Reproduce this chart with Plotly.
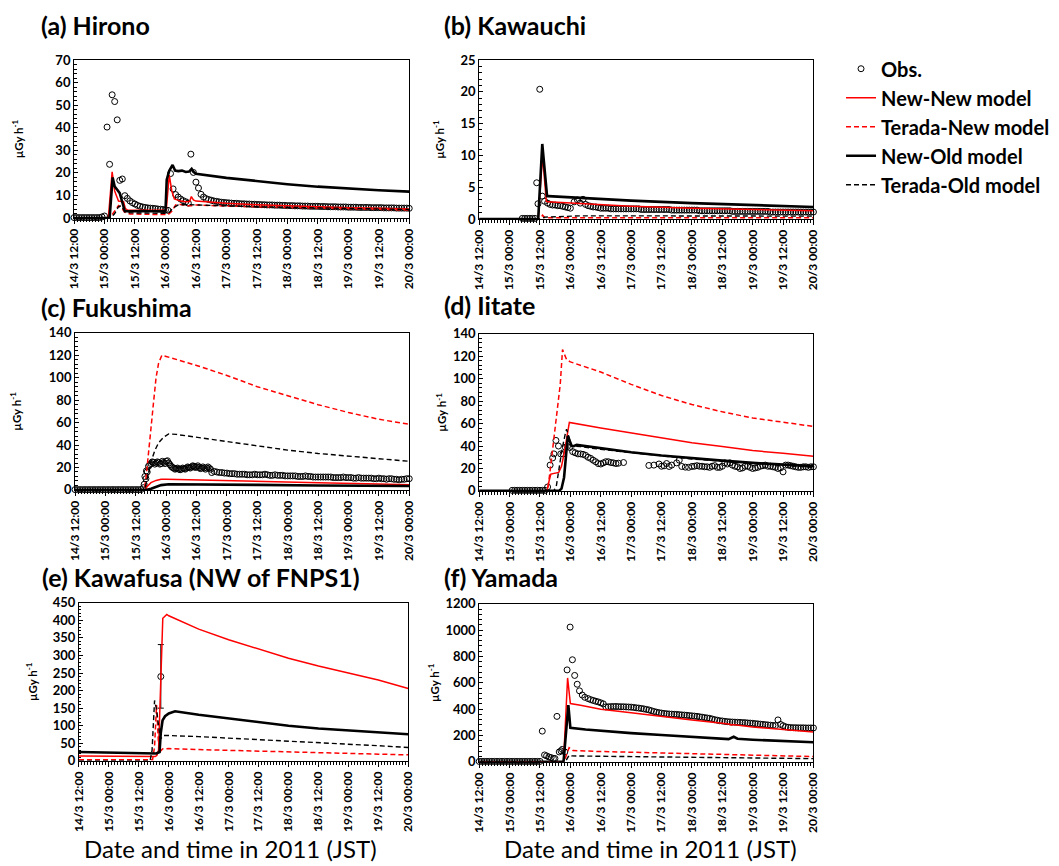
import plotly.graph_objects as go

# ---------------- axis / panel text ----------------
TICK_HOURS = [0, 12, 24, 36, 48, 60, 72, 84, 96, 108, 120, 132]  # hours since 14/3 12:00 JST
TICK_TEXT = ["14/3 12:00", "15/3 00:00", "15/3 12:00", "16/3 00:00", "16/3 12:00",
             "17/3 00:00", "17/3 12:00", "18/3 00:00", "18/3 12:00", "19/3 00:00",
             "19/3 12:00", "20/3 00:00"]
PANEL_TITLES = ["(a) Hirono", "(b) Kawauchi", "(c) Fukushima", "(d) Iitate",
                "(e) Kawafusa (NW of FNPS1)", "(f) Yamada"]
Y_MAX = [70, 25, 140, 140, 450, 1200]
Y_DTICK = [10, 5, 20, 20, 50, 200]
SERIES = ["Obs.", "New-New model", "Terada-New model", "New-Old model", "Terada-Old model"]
X_TITLE = "Date and time in 2011 (JST)"
Y_TITLE = "µGy h<sup>-1</sup>"

# ---------------- (a) Hirono ----------------
a_obs_start = 0
a_obs_v = [0.2, 0.2, 0.2, 0.2, 0.2, 0.2, 0.2, 0.2, 0.2, 0.2, 0.2,
           0.5, 0.9,
           40.3, 23.8, 54.6, 51.6, 43.5, 16.7, 17.3, 9.9,
           8.7, 7.6, 6.8, 6.2, 5.6, 5.2, 4.9, 4.7, 4.5, 4.4, 4.3, 4.2, 4.0, 3.9, 3.8,
           3.6, 3.4,
           19.7, 12.9, 10.4, 9.3, 8.4, 7.7, 7.2, 6.6,
           28.3, 20.2, 15.9, 13.3, 10.5, 9.3, 8.6,
           8.2, 7.9, 7.6, 7.4, 7.2, 7.0, 6.9, 6.8, 6.7, 6.6,
           6.5, 6.5, 6.4, 6.3, 6.3, 6.2, 6.2, 6.1, 6.1, 6.0,
           6.0, 5.9, 5.9, 5.8, 5.8, 5.8, 5.7, 5.7, 5.7, 5.6,
           5.6, 5.5, 5.5, 5.5, 5.4, 5.4, 5.4, 5.3, 5.3, 5.3,
           5.2, 5.2, 5.2, 5.2, 5.1, 5.1, 5.1, 5.0, 5.0, 5.0,
           5.0, 4.9, 4.9, 4.9, 4.9, 4.8, 4.8, 4.8, 4.8, 4.7,
           4.7, 4.7, 4.7, 4.7, 4.6, 4.6, 4.6, 4.6, 4.6, 4.5,
           4.5, 4.5, 4.5, 4.5, 4.4, 4.4, 4.4, 4.4, 4.4, 4.3]
a_nn_t = [0, 13.5, 15, 16, 17, 17.5, 19.5, 20.2, 21, 36, 36.3, 37.5, 38.5, 39.5, 42, 44, 45.5, 46.2, 47, 48, 55, 60, 72, 84, 96, 108, 120, 132]
a_nn_v = [0, 0, 20.5, 12, 9, 7.5, 7.2, 4.2, 3.6, 3.4, 3.5, 19, 12, 8.5, 7.5, 7.2, 7.3, 9.5, 8, 7.5, 6.8, 6.5, 5.9, 5.4, 5.0, 4.6, 4.3, 4.0]
a_tn_t = [0, 14, 15, 16.5, 17.5, 19, 20, 22, 36, 37, 38.5, 40, 42, 44, 46, 48, 60, 72, 96, 120, 132]
a_tn_v = [0, 0, 1.5, 4, 5.5, 4, 2.5, 1.8, 1.5, 1.5, 3, 5.8, 6, 5.5, 5.5, 5.8, 5.3, 5, 4.3, 3.8, 3.6]
a_no_t = [0, 14, 15.2, 16, 17, 18, 19, 20, 36, 36.5, 37.5, 38.8, 39.8, 41, 42.5, 44, 45.3, 46.3, 47, 48, 60, 72, 84, 96, 108, 120, 132]
a_no_v = [0, 0, 18, 14, 12.5, 11, 7, 3, 3, 17, 21, 23.5, 21, 20.8, 21, 20.4, 20.6, 21.8, 20.5, 19.6, 17.8, 16.3, 15.0, 13.9, 13.0, 12.3, 11.7]
a_to_t = [0, 14.5, 16, 17.5, 18.5, 20, 22, 36, 37.5, 39, 41, 44, 48, 60, 72, 96, 120, 132]
a_to_v = [0, 0, 2, 5, 5.5, 3, 2.3, 2.1, 2.5, 4.5, 5.8, 6, 5.8, 5.3, 5, 4.5, 4, 3.8]

# ---------------- (b) Kawauchi ----------------
b_obs_t_early = [17, 18, 19, 20, 21, 22, 22.7, 23.2, 23.9, 24.9, 25.8,
                 27, 28, 29, 30, 31, 32, 33, 34, 35, 36, 37.5, 38.8, 39.9, 41]
b_obs_v_early = [0.1, 0.1, 0.1, 0.1, 0.1, 0.1, 5.7, 2.4, 20.4, 3.6, 2.8,
                 2.5, 2.3, 2.2, 2.2, 2.1, 2.1, 2.0, 1.9, 1.8, 1.7, 2.7, 3.0, 2.5, 3.1]
b_obs_tail_start = 42
b_obs_v_tail = [2.3, 2.1, 2.0, 1.9, 1.9, 1.8, 1.7,
                1.7, 1.7, 1.7, 1.6, 1.6, 1.6, 1.6, 1.6, 1.6, 1.6,
                1.6, 1.6, 1.6, 1.6, 1.6, 1.5, 1.5, 1.5, 1.5, 1.5,
                1.5, 1.5, 1.5, 1.5, 1.5, 1.5, 1.5, 1.4, 1.4, 1.4,
                1.4, 1.4, 1.4, 1.4, 1.4, 1.4, 1.4, 1.4, 1.3, 1.3,
                1.3, 1.3, 1.3, 1.3, 1.3, 1.3, 1.3, 1.3, 1.3, 1.3,
                1.3, 1.2, 1.2, 1.2, 1.2, 1.2, 1.2, 1.2, 1.2, 1.2,
                1.2, 1.2, 1.2, 1.2, 1.2, 1.2, 1.1, 1.1, 1.1, 1.1,
                1.1, 1.1, 1.1, 1.1, 1.1, 1.1, 1.1, 1.1, 1.1, 1.1,
                1.1, 1.1, 1.1, 1.1]
b_nn_t = [0, 23.3, 25, 26.5, 27, 40, 60, 84, 108, 132]
b_nn_v = [0, 0, 10, 2.8, 2.7, 2.4, 2.0, 1.7, 1.5, 1.3]
b_tn_t = [0, 24, 25, 26, 30, 60, 132]
b_tn_v = [0, 0, 0.6, 0.2, 0.2, 0.2, 0.2]
b_no_t = [0, 23.3, 24.9, 26.8, 27.3, 40, 60, 84, 108, 132]
b_no_v = [0, 0, 11.8, 3.6, 3.6, 3.3, 2.9, 2.5, 2.2, 1.9]
b_to_t = [0, 24, 26, 30, 40, 60, 90, 132]
b_to_v = [0, 0, 0.3, 0.35, 0.5, 0.5, 0.5, 0.45]

# ---------------- (c) Fukushima ----------------
c_obs_start = 0
c_obs_v = [0.3, 0.3, 0.3, 0.3, 0.3, 0.3, 0.3, 0.3, 0.3, 0.3,
           0.3, 0.3, 0.3, 0.3, 0.3, 0.3, 0.3, 0.3, 0.3, 0.3,
           0.3, 0.3, 0.3, 0.3, 0.3, 0.3, 0.3,
           2, 10, 21,
           23.5, 24.5, 24, 24.5, 23.5, 24.5, 25.5, 24, 21, 19.5,
           19, 18.5, 18.5, 19, 19.5, 20, 20.5, 21, 20.5, 20,
           19.5, 19.5, 19.5, 19.5,
           15.5, 16.5, 16, 15.5, 15.5, 15, 15, 14.5, 14.5, 14.5,
           14, 14, 14, 14, 13.5, 13.5, 13.5, 14, 13.5, 13.5,
           13.5, 14, 13.5, 13, 13, 13.5, 13, 13, 13, 12.5,
           12.5, 12.5, 12.5, 12.5, 12, 12, 12, 12.5, 12, 12,
           11.5, 11.5, 11.5, 11.5, 11.5, 11.5, 11.5, 11.5, 11, 11,
           11, 11, 11.5, 11, 11, 11, 10.5, 10.5, 11, 10.5,
           10.5, 10.5, 10.5, 10.5, 10, 10, 10.5, 10, 10, 9.5,
           10, 10, 9.5, 9.5, 9, 9.5, 9.5, 10, 10]
# extra (sub-hourly) observations in the dense 16/3 band
c_obs_extra_t = [27.3, 27.6, 28.2, 28.5, 29.5, 30.5, 31.5, 32.5, 33.5, 34.5, 35.5, 36.5, 37.5, 38.5,
                 39.5, 40.5, 41.5, 42.5, 43.5, 44.5, 45.5, 46.5, 47.5, 48.5, 49.5, 50.5,
                 51.5, 52.5, 53.5]
c_obs_extra_v = [5, 12, 17, 16, 22.5, 25, 23, 25, 23, 25.5, 23.5, 26, 22.5, 20,
                 18.5, 19.5, 18, 19.5, 18.5, 20.5, 19.5, 21.5, 20, 21.5, 19, 20.5,
                 18.5, 20.5, 18.5]
c_nn_t = [0, 27.5, 28.5, 30, 32, 34, 36, 48, 60, 72, 96, 120, 132]
c_nn_v = [0, 0, 3, 6.5, 8.5, 9.5, 9.5, 9, 8.5, 8, 6.5, 5.2, 4.7]
c_tn_t = [0, 27.3, 28, 29, 30, 31, 32, 33, 34.3, 36, 48, 60, 72, 84, 96, 108, 120, 132]
c_tn_v = [0, 0, 10, 30, 55, 78, 100, 113, 120, 119, 111, 102, 92, 84, 76, 69, 63, 58.5]
c_no_t = [0, 28, 30, 32, 34, 37, 48, 72, 96, 132]
c_no_v = [0, 0, 1, 3, 4.3, 5, 5, 4.5, 4, 3.5]
c_to_t = [0, 27.5, 28.5, 30, 31.5, 33, 35, 37, 40, 48, 60, 72, 84, 96, 108, 120, 132]
c_to_v = [0, 0, 10, 25, 35, 42, 47, 50, 49.5, 47, 43, 39, 35.5, 32.5, 30, 27.5, 25.5]

# ---------------- (d) Iitate ----------------
d_obs_t = [13, 14, 15, 16, 17, 18, 19, 20, 21, 22, 23, 24, 25, 26,
           27, 28, 29, 29.5, 30.3, 31.3, 32.2, 33.1, 34, 34.8,
           35.8, 36.9, 37.9, 39, 40, 41, 42, 43, 44, 45,
           46, 47, 48, 49, 50, 51, 52, 53, 54, 55,
           57, 67, 69, 71, 72, 73, 74, 75, 76, 78,
           79, 80, 81.4, 82.7, 84]
d_obs_v = [0.5, 0.5, 0.5, 0.5, 0.5, 0.5, 0.5, 0.5, 0.5, 0.5, 0.5, 0.5, 0.5, 0.5,
           3.5, 23, 29.4, 33, 45, 40, 33, 33, 39, 39.6,
           38.7, 35, 34, 33, 33, 32.6, 31.7, 30, 29, 27.4,
           26, 24.4, 24, 25, 26, 26, 25.3, 25, 24.4, 24.7,
           25.3, 22.7, 23, 24, 22, 22.4, 24.4, 21.8, 23, 25,
           27.4, 21.8, 21.2, 21, 21.8]
d_obs_tail_start = 85
d_obs_v_tail = [22, 22.5, 22, 22, 21.5, 21.5, 21, 22, 22.5, 21,
                21, 22, 25, 24, 25, 23, 22, 21.5, 20, 20.5,
                22, 22, 21, 20, 20.5, 21, 22, 22.5, 23, 22,
                22, 21.5, 21, 20, 20.5, 17, 23, 23, 22.5, 22,
                21.5, 21, 21, 21.5, 21.5, 21, 21.5, 21.5]
d_nn_t = [0, 26.8, 27.5, 28.3, 31.4, 32.5, 33.5, 34.3, 35.6, 48, 60, 72, 84, 96, 108, 120, 132]
d_nn_v = [0, 0, 8, 15, 16.5, 22, 33, 45, 61, 56, 51.5, 47, 43, 39.5, 36, 33.5, 31]
d_tn_t = [0, 27, 28, 29, 30, 31, 32, 32.9, 34.5, 36, 48, 60, 72, 84, 96, 108, 120, 132]
d_tn_v = [0, 0, 18, 36, 54, 72, 95, 126, 117, 115, 106, 95, 85, 77, 70.5, 65, 61, 57.5]
d_no_t = [0, 31.5, 32.5, 33.5, 34.3, 35, 36.5, 37.5, 38.5, 48, 60, 72, 84, 96, 108, 120, 132]
d_no_v = [0, 0, 2, 12, 32, 49, 40, 40, 41, 38, 34.5, 31.5, 29, 27, 25, 23.5, 22]
d_to_t = [0, 29.5, 30.5, 31.5, 32.7, 34, 34.5, 36.5, 40, 48, 60, 72, 84, 96, 108, 120, 132]
d_to_v = [0, 0, 5, 20, 37, 51, 55, 40, 39.5, 37, 34, 31, 28.5, 26.5, 24.5, 22.5, 21]

# ---------------- (e) Kawafusa ----------------
e_obs_t = [32.8]
e_obs_v = [240]
e_obs_err_up = [91]
e_obs_err_down = [90]
e_nn_t = [0, 29, 30.5, 31.2, 31.9, 33.6, 35.2, 36, 48, 60, 72, 84, 96, 108, 120, 132]
e_nn_v = [14, 11, 12, 15, 30, 406, 417, 413, 375, 345, 318, 292, 270, 250, 230, 206]
e_tn_t = [0, 29.5, 30.3, 31.1, 31.8, 32.3, 33.5, 36, 48, 72, 96, 120, 132]
e_tn_v = [3, 3, 40, 159, 60, 25, 34, 35, 32, 27, 23, 19, 17]
e_no_t = [0, 29, 31, 32.3, 32.8, 33.5, 34.5, 36, 38.5, 48, 60, 72, 84, 96, 108, 120, 132]
e_no_v = [25, 20, 21, 25, 80, 115, 127, 135, 141, 131, 120, 110, 100, 92, 86, 80, 75.5]
e_to_t = [0, 28.5, 29.3, 30.3, 31, 31.8, 32.6, 34, 36, 48, 72, 96, 120, 132]
e_to_v = [0, 0, 30, 172, 150, 100, 62, 72, 72, 69, 61, 52, 43, 38]

# ---------------- (f) Yamada ----------------
f_obs_t_early = [0, 1, 2, 3, 4, 5, 6, 7, 8, 9, 10, 11, 12, 13, 14, 15, 16, 17, 18, 19, 20, 21, 22, 23, 24,
                 24.9, 25.8, 26.6, 27.5, 28.4, 29.3, 29.9, 30.7, 31.6, 32.3, 32.8, 33.8,
                 34.7, 35.9, 36.8, 37.7, 38.7, 39.6, 40.7, 41.7]
f_obs_v_early = [3, 3, 3, 3, 3, 3, 3, 3, 3, 3, 3, 3, 3, 3, 3, 3, 3, 3, 3, 3, 3, 3, 3, 3, 3,
                 233, 52, 45, 37, 32, 25, 25, 345, 75, 83, 94, 75,
                 698, 1023, 775, 656, 589, 539, 507, 490]
f_obs_tail_start = 43
f_obs_v_tail = [480, 472, 466, 460, 455, 448, 440, 417, 418, 419,
                420, 420, 419, 418, 418, 417, 416, 415, 413, 410,
                408, 405, 402, 398, 394, 388, 382, 377, 373, 370,
                367, 365, 363, 362, 361, 360, 358, 356, 355, 353,
                351, 349, 347, 345, 342, 339, 336, 333, 330, 325,
                320, 316, 312, 310, 307, 305, 303, 302, 301, 300,
                299, 298, 297, 295, 294, 292, 290, 288, 286, 284,
                282, 280, 278, 276, 275, 318, 284, 274, 266, 262,
                260, 259, 259, 258, 258, 258, 257, 257, 257, 257]
f_nn_t = [0, 33.3, 34.9, 36.0, 40, 48, 60, 72, 84, 96, 99, 99.5, 100, 108, 120, 132]
f_nn_v = [0, 0, 637, 442, 430, 400, 372, 343, 317, 292, 285, 278, 283, 265, 245, 226]
f_tn_t = [0, 33.5, 35.5, 37, 48, 72, 96, 120, 132]
f_tn_v = [0, 0, 107, 85, 78, 66, 55, 45, 40]
f_no_t = [0, 33.3, 35.2, 36.0, 42, 48, 60, 72, 84, 96, 98.5, 100.5, 102, 108, 120, 132]
f_no_v = [0, 0, 430, 258, 245, 235, 218, 203, 190, 178, 172, 190, 175, 168, 158, 148]
f_to_t = [0, 34, 35.5, 36.5, 48, 72, 96, 120, 132]
f_to_v = [0, 0, 50, 45, 42, 37, 32, 27, 24]

# ---------------- assemble ----------------
def hourly(start, vals):
    return [start + i for i in range(len(vals))]

panels = [
    dict(obs_t=hourly(a_obs_start, a_obs_v), obs_v=a_obs_v,
         models=[(a_nn_t, a_nn_v), (a_tn_t, a_tn_v), (a_no_t, a_no_v), (a_to_t, a_to_v)]),
    dict(obs_t=b_obs_t_early + hourly(b_obs_tail_start, b_obs_v_tail), obs_v=b_obs_v_early + b_obs_v_tail,
         models=[(b_nn_t, b_nn_v), (b_tn_t, b_tn_v), (b_no_t, b_no_v), (b_to_t, b_to_v)]),
    dict(obs_t=hourly(c_obs_start, c_obs_v) + c_obs_extra_t, obs_v=c_obs_v + c_obs_extra_v,
         models=[(c_nn_t, c_nn_v), (c_tn_t, c_tn_v), (c_no_t, c_no_v), (c_to_t, c_to_v)]),
    dict(obs_t=d_obs_t + hourly(d_obs_tail_start, d_obs_v_tail), obs_v=d_obs_v + d_obs_v_tail,
         models=[(d_nn_t, d_nn_v), (d_tn_t, d_tn_v), (d_no_t, d_no_v), (d_to_t, d_to_v)]),
    dict(obs_t=e_obs_t, obs_v=e_obs_v, err=(e_obs_err_up, e_obs_err_down),
         models=[(e_nn_t, e_nn_v), (e_tn_t, e_tn_v), (e_no_t, e_no_v), (e_to_t, e_to_v)]),
    dict(obs_t=f_obs_t_early + hourly(f_obs_tail_start, f_obs_v_tail), obs_v=f_obs_v_early + f_obs_v_tail,
         models=[(f_nn_t, f_nn_v), (f_tn_t, f_tn_v), (f_no_t, f_no_v), (f_to_t, f_to_v)]),
]

W, H = 1059, 866
# plot-area boxes in pixels: left, right, top, bottom
BOXES = [(67, 407, 53, 214), (478, 817, 53, 215),
         (68, 407, 331, 491), (478, 817, 332, 492),
         (72, 406, 606, 767), (478, 817, 607, 768)]
TITLE_POS = [(31, 17), (440, 17), (31, 305), (440, 303), (32, 580), (440, 580)]
Y_STANDOFF = [29, 13, 24, 3, 12, 3]

LINE_STYLES = [dict(color="#ff0000", width=1.5, dash="solid"),
               dict(color="#ff0000", width=1.5, dash="5px,3px"),
               dict(color="#000000", width=2.6, dash="solid"),
               dict(color="#000000", width=1.4, dash="5px,3px")]

FONT = "Lato, 'Open Sans', sans-serif"
fig = go.Figure()
layout = dict(width=W, height=H, margin=dict(l=0, r=0, t=0, b=0),
              paper_bgcolor="white", plot_bgcolor="white", showlegend=True,
              font=dict(family=FONT, color="black"))

annotations = []
for i, p in enumerate(panels):
    sfx = "" if i == 0 else str(i + 1)
    xa, ya = "x" + sfx, "y" + sfx
    obs = go.Scatter(x=p["obs_t"], y=p["obs_v"], mode="markers", name=SERIES[0],
                     marker=dict(symbol="circle-open", size=6, color="black", line=dict(width=1, color="black")),
                     xaxis=xa, yaxis=ya, showlegend=(i == 0), cliponaxis=False, legendgroup="g0")
    if "err" in p:
        obs.error_y = dict(type="data", array=p["err"][0], arrayminus=p["err"][1],
                           color="black", thickness=1, width=3)
    fig.add_trace(obs)
    for k, (t, v) in enumerate(p["models"]):
        fig.add_trace(go.Scatter(x=t, y=v, mode="lines", name=SERIES[k + 1], line=LINE_STYLES[k],
                                 xaxis=xa, yaxis=ya, showlegend=(i == 0), legendgroup="g%d" % (k + 1)))
    l, r, t_, b = BOXES[i]
    layout["xaxis" + sfx] = dict(
        domain=[l / W, r / W], range=[0, 132], anchor=ya,
        tickmode="array", tickvals=TICK_HOURS, ticktext=TICK_TEXT, tickangle=-90,
        ticks="outside", ticklen=5, tickwidth=1, tickcolor="black",
        minor=dict(ticks="outside", ticklen=3, tickwidth=1, tickcolor="black", tickmode="linear", tick0=0, dtick=1.2),
        showline=True, linecolor="black", linewidth=1, mirror=True,
        showgrid=False, zeroline=False,
        tickfont=dict(family=FONT, size=12, weight="bold", color="black"))
    layout["yaxis" + sfx] = dict(
        domain=[1 - b / H, 1 - t_ / H], range=[0, Y_MAX[i]], anchor=xa,
        tickmode="linear", tick0=0, dtick=Y_DTICK[i],
        ticks="inside", ticklen=4, tickwidth=1, tickcolor="black",
        minor=dict(ticks="inside", ticklen=2.5, tickwidth=1, tickcolor="black", tickmode="linear", tick0=0, dtick=Y_DTICK[i] / 5),
        showline=True, linecolor="black", linewidth=1, mirror=True,
        showgrid=False, zeroline=False,
        tickfont=dict(family=FONT, size=13, weight="bold", color="black"),
        title=dict(text=Y_TITLE, font=dict(family=FONT, size=11.5, weight="bold", color="black"), standoff=Y_STANDOFF[i]))
    tx, ty = TITLE_POS[i]
    annotations.append(dict(text=PANEL_TITLES[i], x=tx / W, y=1 - ty / H, xref="paper", yref="paper",
                            xanchor="left", yanchor="middle", showarrow=False,
                            font=dict(family=FONT, size=25, weight="bold", color="black")))

annotations.append(dict(text=X_TITLE, x=226 / W, y=1 - 856 / H, xref="paper", yref="paper",
                        xanchor="center", yanchor="middle", showarrow=False,
                        font=dict(family=FONT, size=24, color="black")))
annotations.append(dict(text=X_TITLE, x=652 / W, y=1 - 856 / H, xref="paper", yref="paper",
                        xanchor="center", yanchor="middle", showarrow=False,
                        font=dict(family=FONT, size=24, color="black")))
layout["annotations"] = annotations
layout["legend"] = dict(x=845 / W, y=1 - 42 / H, xanchor="left", yanchor="top",
                        font=dict(family=FONT, size=20, weight="bold", color="black"),
                        bgcolor="rgba(0,0,0,0)", borderwidth=0, tracegroupgap=0,
                        traceorder="grouped", itemwidth=30)
fig.update_layout(**layout)
fig.write_html("out.html", config={"displayModeBar": False},
               post_script="document.body.style.margin='0';")
